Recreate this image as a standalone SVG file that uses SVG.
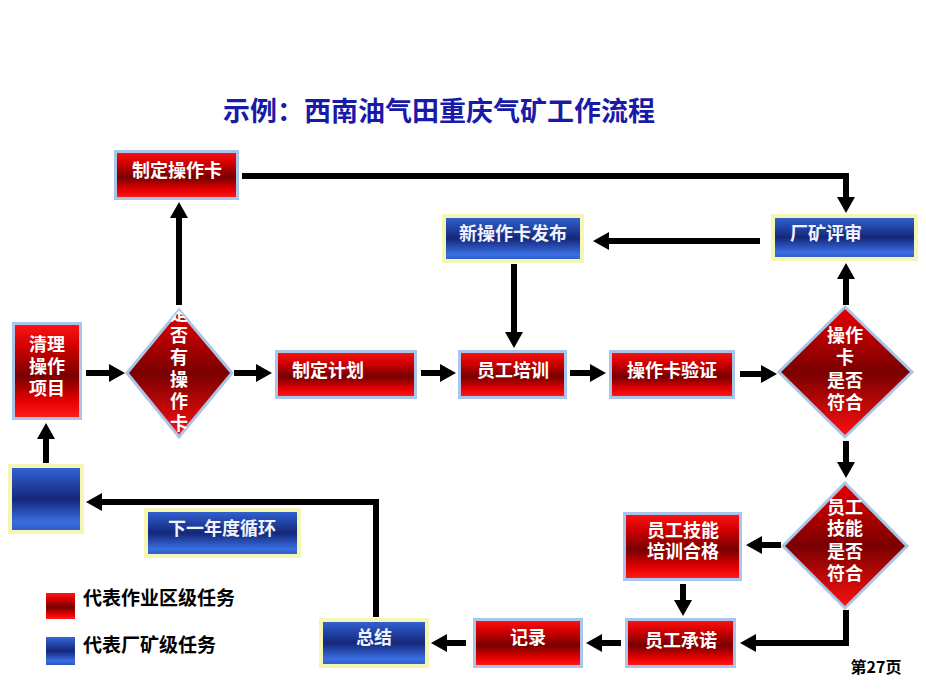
<svg xmlns="http://www.w3.org/2000/svg" width="926" height="699" viewBox="0 0 926 699">
<defs>
<linearGradient id="gRed" x1="0" y1="0" x2="0" y2="1">
<stop offset="0" stop-color="#ff1414"/>
<stop offset="0.25" stop-color="#d00000"/>
<stop offset="0.55" stop-color="#780000"/>
<stop offset="0.82" stop-color="#e80000"/>
<stop offset="1" stop-color="#ff1e1e"/>
</linearGradient>
<linearGradient id="gBlue" x1="0" y1="0" x2="0" y2="1">
<stop offset="0" stop-color="#3466d8"/>
<stop offset="0.5" stop-color="#14277a"/>
<stop offset="0.85" stop-color="#3a6ee2"/>
<stop offset="1" stop-color="#2a58c8"/>
</linearGradient>
<linearGradient id="gDia" x1="0" y1="0" x2="0" y2="1">
<stop offset="0" stop-color="#e80000"/>
<stop offset="0.5" stop-color="#7a0000"/>
<stop offset="1" stop-color="#ff1010"/>
</linearGradient>
<marker id="ah" markerUnits="userSpaceOnUse" markerWidth="16" markerHeight="18" refX="2" refY="9" orient="auto">
<path d="M0,0 L16,9 L0,18 z" fill="#000"/>
</marker>
<clipPath id="clipD1"><polygon points="179,310 232,373 179,437 127,373"/></clipPath>
</defs>
<style>
.red{fill:url(#gRed);stroke:#a9c6ea;stroke-width:3}
.blue{fill:url(#gBlue);stroke:#f5f5b4;stroke-width:4}
.dia{fill:url(#gDia);stroke:#a9c6ea;stroke-width:3}
.t{font-family:"Noto Sans CJK SC","Noto Sans",sans-serif;font-weight:bold;font-size:18px;fill:#fff;text-anchor:middle}
.tb{fill:#eef3ff}
.lg{font-family:"Noto Sans CJK SC","Noto Sans",sans-serif;font-weight:bold;font-size:19px;fill:#000}
.c{fill:none;stroke:#000;stroke-width:6;marker-end:url(#ah)}
</style>
<rect width="926" height="699" fill="#fff"/>
<text x="439" y="121" font-family="'Noto Sans CJK SC','Noto Sans',sans-serif" font-weight="bold" font-size="27" fill="#1a1aa8" text-anchor="middle">示例：西南油气田重庆气矿工作流程</text>

<g id="n-zhiding-czk"><rect class="red" x="115.5" y="151.5" width="122" height="47"/><text class="t" x="177" y="177">制定操作卡</text></g>
<g id="n-qingli"><rect class="red" x="13.5" y="323.5" width="67" height="95"/><text class="t" x="47" y="351">清理<tspan x="47" dy="22">操作</tspan><tspan x="47" dy="22">项目</tspan></text></g>
<g id="n-d1"><polygon class="dia" points="179,310 232,373 179,437 127,373"/>
<g clip-path="url(#clipD1)"><text class="t" x="179" y="320">是<tspan x="179" dy="22">否</tspan><tspan x="179" dy="22">有</tspan><tspan x="179" dy="22">操</tspan><tspan x="179" dy="22">作</tspan><tspan x="179" dy="22">卡</tspan></text></g></g>
<g id="n-jihua"><rect class="red" x="276.5" y="351.5" width="139" height="46"/><text class="t" x="292" y="377" style="text-anchor:start">制定计划</text></g>
<g id="n-peixun"><rect class="red" x="459.5" y="351.5" width="106" height="46"/><text class="t" x="513" y="377">员工培训</text></g>
<g id="n-yanzheng"><rect class="red" x="610.5" y="351.5" width="123" height="46"/><text class="t" x="672" y="377">操作卡验证</text></g>
<g id="n-fabu"><rect class="blue" x="444" y="216" width="138" height="45"/><text class="t tb" x="513" y="240">新操作卡发布</text></g>
<g id="n-pingshen"><rect class="blue" x="773" y="216" width="143" height="43"/><text class="t tb" x="790" y="240" style="text-anchor:start">厂矿评审</text></g>
<g id="n-d2"><polygon class="dia" points="845,307 912,372 845,437 779,372"/><text class="t" x="845" y="342">操作<tspan x="845" dy="22">卡</tspan><tspan x="845" dy="23">是否</tspan><tspan x="845" dy="22">符合</tspan></text></g>
<g id="n-d3"><polygon class="dia" points="845,483 907,546 845,608 783,546"/><text class="t" x="845" y="514">员工<tspan x="845" dy="21">技能</tspan><tspan x="845" dy="23">是否</tspan><tspan x="845" dy="22">符合</tspan></text></g>
<g id="n-hege"><rect class="red" x="624.5" y="513.5" width="116" height="66"/><text class="t" x="683" y="537">员工技能<tspan x="683" dy="21">培训合格</tspan></text></g>
<g id="n-chengnuo"><rect class="red" x="626.5" y="619.5" width="108" height="47"/><text class="t" x="681" y="647">员工承诺</text></g>
<g id="n-jilu"><rect class="red" x="474.5" y="619.5" width="107" height="47"/><text class="t" x="528" y="644">记录</text></g>
<g id="n-zongjie"><rect class="blue" x="321" y="620" width="106" height="46"/><text class="t tb" x="374" y="644">总结</text></g>
<g id="n-blue"><rect class="blue" x="10" y="466" width="72" height="66"/></g>
<g id="n-xunhuan"><rect class="blue" x="146" y="510" width="153" height="46"/><text class="t tb" x="222" y="535">下一年度循环</text></g>

<g id="legend">
<rect x="46" y="593" width="29" height="26" fill="url(#gRed)"/>
<text class="lg" x="83" y="605">代表作业区级任务</text>
<rect x="46" y="637" width="29" height="28" fill="url(#gBlue)"/>
<text class="lg" x="83" y="652">代表厂矿级任务</text>
</g>
<text x="876" y="673" font-family="'Noto Sans CJK SC','Noto Sans',sans-serif" font-weight="bold" font-size="16" fill="#000" text-anchor="middle">第27页</text>

<g id="connectors">
<path class="c" d="M242,176 H846 V199"/>
<path class="c" d="M760,241 H607"/>
<path class="c" d="M514,264 V334"/>
<path class="c" d="M86,373 H111"/>
<path class="c" d="M179,305 V216"/>
<path class="c" d="M234,373 H258"/>
<path class="c" d="M421,373 H442"/>
<path class="c" d="M570,373 H592"/>
<path class="c" d="M740,374 H763"/>
<path class="c" d="M846,305 V277"/>
<path class="c" d="M846,441 V464"/>
<path class="c" d="M781,545 H760"/>
<path class="c" d="M683,584 V602"/>
<path class="c" d="M846,610 V643 H754"/>
<path class="c" d="M621,643 H600"/>
<path class="c" d="M466,643 H445"/>
<path class="c" d="M376,617 V502 H100"/>
<path class="c" d="M46,463 V437"/>
</g>
</svg>
